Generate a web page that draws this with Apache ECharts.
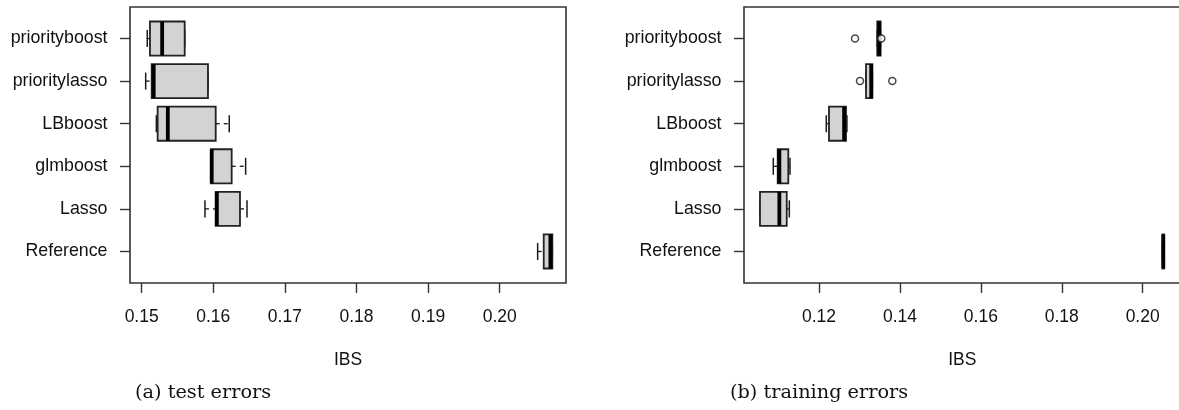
<!DOCTYPE html>
<html>
<head>
<meta charset="utf-8">
<title>IBS boxplots</title>
<script src="https://cdn.jsdelivr.net/npm/echarts@6/dist/echarts.min.js"></script>
<style>
  html, body { margin: 0; padding: 0; background: #ffffff; }
  #chart { width: 1179px; height: 410px; }
</style>
</head>
<body>
<div id="chart"></div>
<script>
// Methods, listed bottom to top (position 1 .. 6 on the vertical axis)
const categories = ['Reference', 'Lasso', 'glmboost', 'LBboost', 'prioritylasso', 'priorityboost'];

// (a) test errors: five-number summaries per method
const testLower  = [0.20530, 0.15884, 0.15965, 0.15205, 0.15056, 0.15078];
const testQ1     = [0.20615, 0.16034, 0.15968, 0.15223, 0.15140, 0.15116];
const testMedian = [0.20708, 0.16050, 0.15978, 0.15365, 0.15168, 0.15286];
const testQ3     = [0.20735, 0.16373, 0.16257, 0.16034, 0.15926, 0.15601];
const testUpper  = [0.20735, 0.16471, 0.16452, 0.16223, 0.15926, 0.15601];
const testTicks  = [0.15, 0.16, 0.17, 0.18, 0.19, 0.20];

// (b) training errors: five-number summaries per method
const trainLower  = [0.20490, 0.10541, 0.10870, 0.12180, 0.13162, 0.13440];
const trainQ1     = [0.20490, 0.10541, 0.10979, 0.12247, 0.13162, 0.13440];
const trainMedian = [0.20510, 0.11020, 0.11020, 0.12620, 0.13290, 0.13490];
const trainQ3     = [0.20530, 0.11202, 0.11241, 0.12667, 0.13318, 0.13520];
const trainUpper  = [0.20530, 0.11266, 0.11283, 0.12690, 0.13318, 0.13520];
// outlying runs: [method position, IBS]
const trainOutliers = [[6, 0.12890], [6, 0.13540], [5, 0.13014], [5, 0.13812]];
const trainTicks  = [0.12, 0.14, 0.16, 0.18, 0.20];

const axisFont = 'Liberation Sans, Arial, Helvetica, sans-serif';
const inkColor = '#111111';
const frameColor = '#333333';
const positions = categories.map((_, i) => i + 1);

function boxRows(lower, q1, median, q3, upper) {
  return categories.map((_, i) => [i + 1, lower[i], q1[i], median[i], q3[i], upper[i]]);
}

// Draws one R-style horizontal box: dashed whiskers, staples, grey box, heavy median.
function renderBox(params, api) {
  const y = api.value(0);
  const lo = api.coord([api.value(1), y]);
  const q1 = api.coord([api.value(2), y]);
  const md = api.coord([api.value(3), y]);
  const q3 = api.coord([api.value(4), y]);
  const hi = api.coord([api.value(5), y]);
  const half = api.size([0, 0.4])[1];
  const cap = half / 2;
  const cy = lo[1];
  const thin = { stroke: '#1a1a1a', lineWidth: 1.5, fill: null };
  const dashed = { stroke: '#1a1a1a', lineWidth: 1.3, lineDash: [4, 4], fill: null };
  return {
    type: 'group',
    children: [
      { type: 'line', shape: { x1: lo[0], y1: cy, x2: q1[0], y2: cy }, style: dashed },
      { type: 'line', shape: { x1: q3[0], y1: cy, x2: hi[0], y2: cy }, style: dashed },
      { type: 'line', shape: { x1: lo[0], y1: cy - cap, x2: lo[0], y2: cy + cap }, style: thin },
      { type: 'line', shape: { x1: hi[0], y1: cy - cap, x2: hi[0], y2: cy + cap }, style: thin },
      { type: 'rect', shape: { x: q1[0], y: cy - half, width: q3[0] - q1[0], height: 2 * half },
        style: { fill: '#d3d3d3', stroke: '#222222', lineWidth: 1.8 } },
      { type: 'line', shape: { x1: md[0], y1: cy - half, x2: md[0], y2: cy + half },
        style: { stroke: '#000000', lineWidth: 3.8 } }
    ]
  };
}

function xAxisFor(gridIndex, min, max, ticks) {
  return {
    type: 'value', gridIndex, min, max,
    name: 'IBS', nameLocation: 'middle', nameGap: 68,
    nameTextStyle: { fontFamily: axisFont, fontSize: 17.5, color: inkColor },
    axisLine: { show: false },
    splitLine: { show: false },
    axisTick: { show: true, length: 10, customValues: ticks, lineStyle: { color: frameColor, width: 1.4 } },
    axisLabel: { show: true, margin: 25, customValues: ticks, fontFamily: axisFont, fontSize: 17.5,
                 color: inkColor, formatter: v => v.toFixed(2) }
  };
}

function yAxisFor(gridIndex) {
  return {
    type: 'value', gridIndex, min: 0.26, max: 6.74,
    axisLine: { show: false },
    splitLine: { show: false },
    axisTick: { show: true, length: 10, customValues: positions, lineStyle: { color: frameColor, width: 1.4 } },
    axisLabel: { show: true, margin: 22.5, customValues: positions, fontFamily: axisFont, fontSize: 17.8,
                 color: inkColor, formatter: v => categories[Math.round(v) - 1] || '' }
  };
}

const gridFrame = { show: true, borderColor: frameColor, borderWidth: 1.6, backgroundColor: 'transparent',
                    containLabel: false, outerBoundsMode: 'none' };

const chart = echarts.init(document.getElementById('chart'), null, { renderer: 'canvas' });
chart.setOption({
  animation: false,
  backgroundColor: '#ffffff',
  grid: [
    Object.assign({ left: 130, top: 7, width: 436, height: 276 }, gridFrame),
    Object.assign({ left: 744, top: 7, width: 436.5, height: 276 }, gridFrame)
  ],
  xAxis: [
    xAxisFor(0, 0.14837, 0.20926, testTicks),
    xAxisFor(1, 0.10146, 0.20935, trainTicks)
  ],
  yAxis: [yAxisFor(0), yAxisFor(1)],
  series: [
    { type: 'custom', xAxisIndex: 0, yAxisIndex: 0, renderItem: renderBox,
      encode: { x: [1, 2, 3, 4, 5], y: 0 },
      data: boxRows(testLower, testQ1, testMedian, testQ3, testUpper) },
    { type: 'custom', xAxisIndex: 1, yAxisIndex: 1, renderItem: renderBox,
      encode: { x: [1, 2, 3, 4, 5], y: 0 },
      data: boxRows(trainLower, trainQ1, trainMedian, trainQ3, trainUpper) },
    { type: 'scatter', xAxisIndex: 1, yAxisIndex: 1, symbol: 'circle', symbolSize: 7,
      itemStyle: { color: '#ffffff', borderColor: '#1a1a1a', borderWidth: 1.5 },
      data: trainOutliers.map(o => [o[1], o[0]]), z: 3 }
  ],
  graphic: [
    { type: 'text', left: 135, top: 383,
      style: { text: '(a) test errors', font: '19.3px "DejaVu Serif", serif', fill: '#111111' } },
    { type: 'text', left: 730, top: 383,
      style: { text: '(b) training errors', font: '19.3px "DejaVu Serif", serif', fill: '#111111' } }
  ]
});
</script>
</body>
</html>
